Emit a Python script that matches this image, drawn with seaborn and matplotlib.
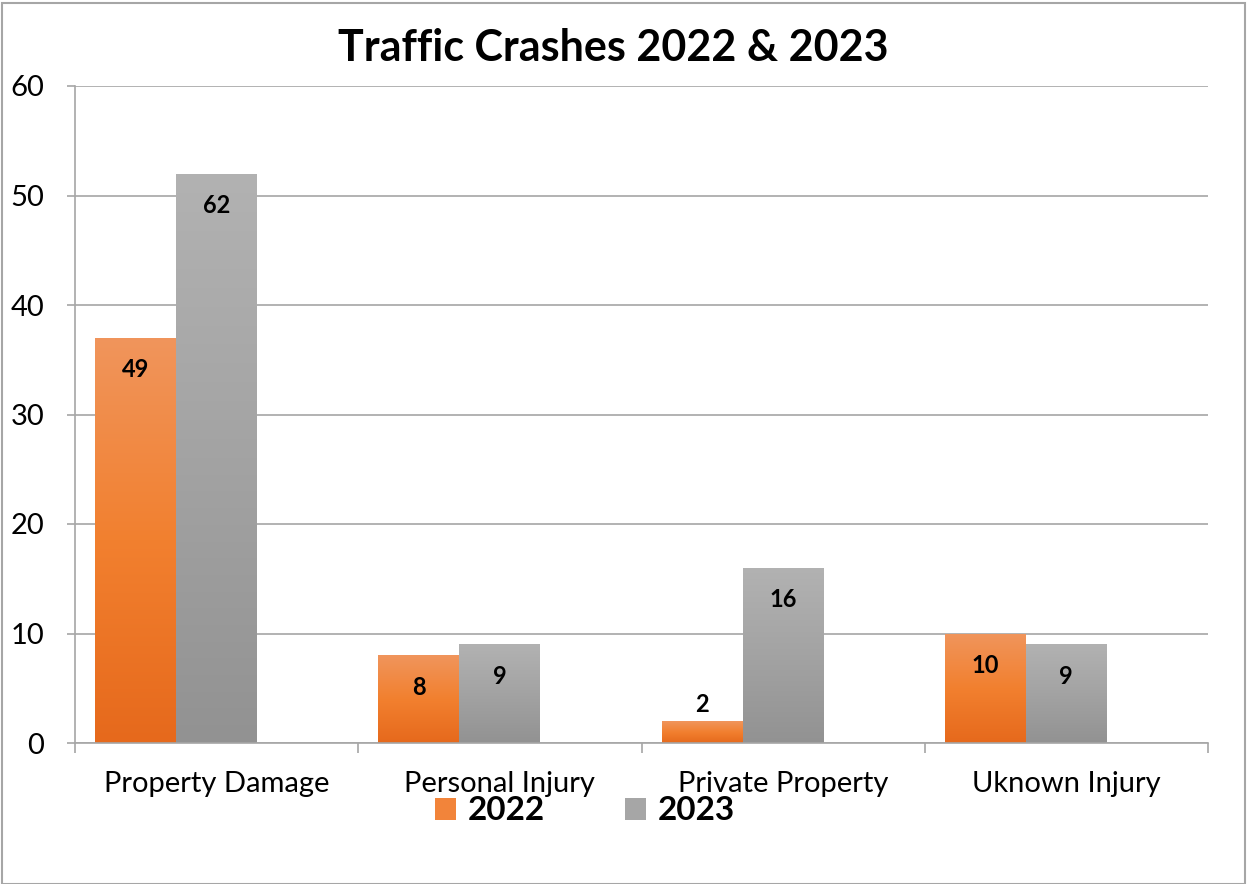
import numpy as np
import pandas as pd
import matplotlib
matplotlib.use("Agg")
import matplotlib.pyplot as plt
import seaborn as sns
from matplotlib.colors import LinearSegmentedColormap
from matplotlib.patches import Rectangle, Patch

# ---- data ----
categories = ["Property Damage", "Personal Injury", "Private Property", "Uknown Injury"]
years = ["2022", "2023"]
heights_2022 = [37, 8, 2, 10]
heights_2023 = [52, 9, 16, 9]
labels_2022 = [49, 8, 2, 10]
labels_2023 = [62, 9, 16, 9]
y_ticks = [0, 10, 20, 30, 40, 50, 60]
title = "Traffic Crashes 2022 & 2023"

df = pd.DataFrame({
    "category": categories * 2,
    "year": [years[0]] * 4 + [years[1]] * 4,
    "value": heights_2022 + heights_2023,
    "label": labels_2022 + labels_2023,
})

sns.set_theme(style="white")
plt.rcParams["font.family"] = ["Lato", "DejaVu Sans"]
plt.rcParams["text.color"] = "black"

fig = plt.figure(figsize=(12.47, 8.84), dpi=100)
ax = fig.add_axes([75 / 1247, 1 - 743 / 884, (1208 - 75) / 1247, (743 - 86) / 884])

pad_level = " "
palette = {"2022": "#F2843A", "2023": "#A6A6A6", pad_level: "#ffffff"}
sns.barplot(data=df, x="category", y="value", hue="year", order=categories,
            hue_order=years + [pad_level], palette=palette, width=6 / 7, gap=0,
            legend=False, ax=ax, saturation=1, edgecolor="none", linewidth=0)

grad = {
    "2022": LinearSegmentedColormap.from_list("o", ["#E6691C", "#F2802F", "#F0955C"]),
    "2023": LinearSegmentedColormap.from_list("g", ["#929292", "#A3A3A3", "#B2B2B2"]),
}
gimg = np.linspace(0, 1, 256).reshape(-1, 1)

ppu = (743 - 86) / 60.0  # pixels per unit, for label placement rule
for yr, container in zip(years, ax.containers):
    sub = df[df["year"] == yr].set_index("category").loc[categories]
    for bar, lab in zip(container, sub["label"]):
        x0, w, h = bar.get_x(), bar.get_width(), bar.get_height()
        bar.set_facecolor("none")
        im = ax.imshow(gimg, extent=[x0, x0 + w, 0, h], origin="lower",
                       aspect="auto", cmap=grad[yr], zorder=2)
        im.set_clip_path(bar)
        cx = x0 + w / 2
        dy = 12 if h * ppu < 40 else -23
        ax.annotate(str(lab), (cx, h), xytext=(0, dy), textcoords="offset points",
                    ha="center", va="center", fontsize=17, fontweight="bold",
                    color="black", zorder=5)

ax.set_xlim(-0.5, 3.5)
ax.set_ylim(0, 60)
ax.set_yticks(y_ticks)
ax.set_yticklabels([str(t) for t in y_ticks])
ax.set_xlabel("")
ax.set_ylabel("")
ax.grid(axis="y", color="#A6A6A6", linewidth=1.2, zorder=0)
ax.set_axisbelow(True)

for s in ["top", "right"]:
    ax.spines[s].set_visible(False)
for s in ["left", "bottom"]:
    ax.spines[s].set_color("#A6A6A6")
    ax.spines[s].set_linewidth(1.2)

ax.tick_params(axis="y", which="major", length=6, width=1.2, color="#A6A6A6",
               pad=16, labelsize=21, labelcolor="black", left=True)
ax.tick_params(axis="x", which="major", length=0, pad=20, labelsize=21, labelcolor="black")
ax.set_xticks(np.arange(-0.5, 4.0, 1.0), minor=True)
ax.tick_params(axis="x", which="minor", length=7, width=1.2, color="#A6A6A6", bottom=True)

ax.set_title(title, fontsize=31, fontweight="bold", pad=18, color="black")
ax.title.set_position((0.475, 1.0))

handles = [Patch(facecolor=palette[y], edgecolor="none") for y in years]
fig.legend(handles, years, loc="center", bbox_to_anchor=(585 / 1247, 1 - 811 / 884),
           ncol=2, frameon=False, prop={"size": 24, "weight": "bold"},
           handlelength=0.62, handleheight=0.62, handletextpad=0.35, columnspacing=2.4)

fig.add_artist(Rectangle((0.0015, 0.0), 0.997, 0.997, transform=fig.transFigure,
                         fill=False, edgecolor="#A6A6A6", linewidth=1.5))

fig.savefig("out.png", dpi=100)
